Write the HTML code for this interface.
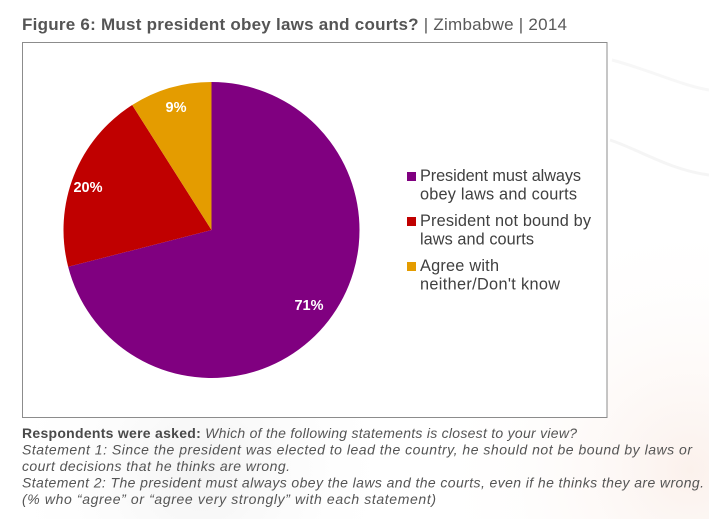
<!DOCTYPE html>
<html>
<head>
<meta charset="utf-8">
<style>
  html, body { margin: 0; padding: 0; }
  body { width: 709px; height: 519px; overflow: hidden; background: #ffffff; }
  svg { display: block; }
</style>
</head>
<body>
<svg width="709" height="519" viewBox="0 0 709 519" xmlns="http://www.w3.org/2000/svg">
  <defs>
    <radialGradient id="bgpink" cx="690" cy="470" r="260" gradientUnits="userSpaceOnUse">
      <stop offset="0" stop-color="#fbf1ec"/>
      <stop offset="1" stop-color="#ffffff" stop-opacity="0"/>
    </radialGradient>
    <radialGradient id="bggray" cx="200" cy="470" r="200" gradientUnits="userSpaceOnUse">
      <stop offset="0" stop-color="#f3f3f3"/>
      <stop offset="1" stop-color="#ffffff" stop-opacity="0"/>
    </radialGradient>
  </defs>
  <rect x="0" y="0" width="709" height="519" fill="#ffffff"/>
  <rect x="0" y="0" width="709" height="519" fill="url(#bgpink)"/>
  <rect x="0" y="0" width="709" height="519" fill="url(#bggray)"/>
  <!-- faint watermark strokes -->
  <path d="M610 140 C 640 150, 670 170, 709 175" stroke="#f5f5f5" stroke-width="3" fill="none"/>
  <path d="M612 60 C 650 70, 680 85, 709 90" stroke="#f7f7f7" stroke-width="3" fill="none"/>

  <!-- Title -->
  <text x="22" y="30" font-family="'Liberation Sans', sans-serif" font-size="17" fill="#595959" textLength="545" lengthAdjust="spacing"><tspan font-weight="bold" fill="#555555">Figure 6: Must president obey laws and courts?</tspan><tspan> | Zimbabwe | 2014</tspan></text>

  <!-- Chart box -->
  <rect x="22.5" y="42.5" width="584.5" height="375" fill="#ffffff" stroke="#8c8c8c" stroke-width="1"/>

  <!-- Pie -->
  <path d="M211.5 230 L211.5 82 A148 148 0 1 1 68.15 266.8 Z" fill="#800080"/>
  <path d="M211.5 230 L68.15 266.8 A148 148 0 0 1 132.2 105.0 Z" fill="#c00000"/>
  <path d="M211.5 230 L132.2 105.0 A148 148 0 0 1 211.5 82 Z" fill="#e49c00"/>

  <!-- Pie labels -->
  <g font-family="'Liberation Sans', sans-serif" font-size="14.5" font-weight="bold" fill="#ffffff" text-anchor="middle">
    <text x="176" y="112">9%</text>
    <text x="88" y="192">20%</text>
    <text x="309" y="310">71%</text>
  </g>

  <!-- Legend -->
  <rect x="407" y="172" width="9" height="9" fill="#800080"/>
  <rect x="407" y="217" width="9" height="9" fill="#c00000"/>
  <rect x="407" y="262" width="9" height="9" fill="#e49c00"/>
  <g font-family="'Liberation Sans', sans-serif" font-size="16.3" fill="#404040">
    <text x="420" y="181" textLength="161" lengthAdjust="spacing">President must always</text>
    <text x="420" y="199.5" textLength="157" lengthAdjust="spacing">obey laws and courts</text>
    <text x="420" y="226" textLength="171" lengthAdjust="spacing">President not bound by</text>
    <text x="420" y="244.5" textLength="114" lengthAdjust="spacing">laws and courts</text>
    <text x="420" y="271" textLength="79" lengthAdjust="spacing">Agree with</text>
    <text x="420" y="289.5" textLength="140" lengthAdjust="spacing">neither/Don't know</text>
  </g>

  <!-- Footnote -->
  <g font-family="'Liberation Sans', sans-serif" font-size="14" fill="#555555">
    <text x="22" y="438" textLength="555" lengthAdjust="spacing"><tspan font-weight="bold" fill="#4a4a4a">Respondents were asked:</tspan><tspan font-style="italic"> Which of the following statements is closest to your view?</tspan></text>
    <text x="22" y="454.5" font-style="italic" textLength="670" lengthAdjust="spacing">Statement 1: Since the president was elected to lead the country, he should not be bound by laws or</text>
    <text x="22" y="471" font-style="italic" textLength="268" lengthAdjust="spacing">court decisions that he thinks are wrong.</text>
    <text x="22" y="487.5" font-style="italic" textLength="682" lengthAdjust="spacing">Statement 2: The president must always obey the laws and the courts, even if he thinks they are wrong.</text>
    <text x="22" y="504" font-style="italic" textLength="414" lengthAdjust="spacing">(% who “agree” or “agree very strongly” with each statement)</text>
  </g>
</svg>
</body>
</html>
